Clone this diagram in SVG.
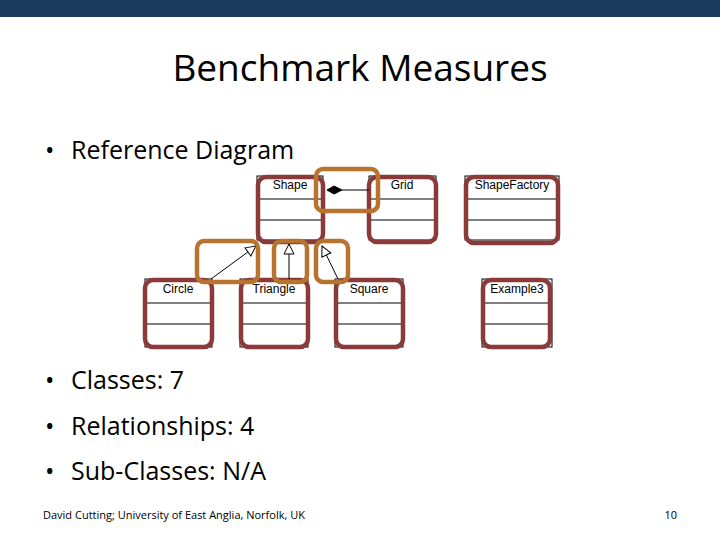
<svg xmlns="http://www.w3.org/2000/svg" width="720" height="540" viewBox="0 0 720 540">
<style>
.t{font-family:"Open Sans","Liberation Sans",sans-serif;fill:#000}
.cls{fill:#fff;stroke:#000;stroke-width:1}
.lbl{font-family:"Liberation Sans",sans-serif;font-size:12px;text-anchor:middle;fill:#000}
.red{fill:none;stroke:#8B3A3A;stroke-width:4.5}
.org{fill:none;stroke:#B8732F;stroke-width:4.5}
</style>
<defs>
<marker id="hollow" markerWidth="12" markerHeight="12" refX="11" refY="6" orient="auto" markerUnits="userSpaceOnUse"><path d="M1,1 L11,6 L1,11 Z" fill="#fff" stroke="#000"/></marker>
</defs>
<rect x="0" y="0" width="720" height="17" fill="#1B3A5E"/>
<text class="t" x="360" y="81" font-size="37" text-anchor="middle">Benchmark Measures</text>
<g class="t" font-size="25">
<text x="45" y="159">•</text><text x="71" y="159">Reference Diagram</text>
<text x="45" y="389">•</text><text x="71" y="389">Classes: 7</text>
<text x="45" y="435">•</text><text x="71" y="435">Relationships: 4</text>
<text x="45" y="480">•</text><text x="71" y="480">Sub-Classes: N/A</text>
</g>
<text class="t" x="43" y="519" font-size="11">David Cutting; University of East Anglia, Norfolk, UK</text>
<text class="t" x="677" y="519" font-size="11" text-anchor="end">10</text>
<g id="shape"><rect class="cls" x="257" y="176" width="66" height="64"/><line x1="257" y1="199" x2="323" y2="199" stroke="#000"/><line x1="257" y1="220" x2="323" y2="220" stroke="#000"/><text class="lbl" x="290" y="189">Shape</text><rect class="red" x="258" y="177" width="65" height="65" rx="8"/></g>
<g id="grid"><rect class="cls" x="369" y="176" width="67" height="64"/><line x1="369" y1="199" x2="436" y2="199" stroke="#000"/><line x1="369" y1="220" x2="436" y2="220" stroke="#000"/><text class="lbl" x="402" y="189">Grid</text><rect class="red" x="369" y="177" width="67" height="65" rx="8"/></g>
<g id="shapefactory"><rect class="cls" x="465" y="176" width="94" height="64"/><line x1="465" y1="199" x2="559" y2="199" stroke="#000"/><line x1="465" y1="220" x2="559" y2="220" stroke="#000"/><text class="lbl" x="512" y="189">ShapeFactory</text><rect class="red" x="466" y="177" width="92" height="66" rx="8"/></g>
<g id="circle"><rect class="cls" x="145" y="279" width="67" height="68"/><line x1="145" y1="303" x2="212" y2="303" stroke="#000"/><line x1="145" y1="324" x2="212" y2="324" stroke="#000"/><text class="lbl" x="178" y="293">Circle</text><rect class="red" x="145" y="280" width="67" height="67" rx="8"/></g>
<g id="triangle"><rect class="cls" x="240" y="279" width="68" height="68"/><line x1="240" y1="303" x2="308" y2="303" stroke="#000"/><line x1="240" y1="324" x2="308" y2="324" stroke="#000"/><text class="lbl" x="274" y="293">Triangle</text><rect class="red" x="241" y="280" width="67" height="67" rx="8"/></g>
<g id="square"><rect class="cls" x="335" y="279" width="68" height="68"/><line x1="335" y1="303" x2="403" y2="303" stroke="#000"/><line x1="335" y1="324" x2="403" y2="324" stroke="#000"/><text class="lbl" x="369" y="293">Square</text><rect class="red" x="336" y="280" width="67" height="67" rx="8"/></g>
<g id="example3"><rect class="cls" x="482" y="279" width="70" height="68"/><line x1="482" y1="303" x2="552" y2="303" stroke="#000"/><line x1="482" y1="324" x2="552" y2="324" stroke="#000"/><text class="lbl" x="517" y="293">Example3</text><rect class="red" x="483" y="280" width="67" height="67" rx="8"/></g>
<g id="connectors" stroke="#000" stroke-width="1">
<line x1="342" y1="190" x2="369" y2="190"/>
<path d="M327,190 L334,186 L342,190 L334,194 Z" fill="#000"/>
<line x1="211" y1="279" x2="256" y2="246" marker-end="url(#hollow)"/>
<line x1="289" y1="279" x2="289" y2="244" marker-end="url(#hollow)"/>
<line x1="338" y1="279" x2="322" y2="246" marker-end="url(#hollow)"/>
</g>
<g id="highlights">
<rect class="org" x="316" y="169" width="62" height="42" rx="7"/>
<rect class="org" x="197" y="241" width="61" height="41" rx="7"/>
<rect class="org" x="274" y="241" width="33" height="41" rx="7"/>
<rect class="org" x="316" y="241" width="32" height="41" rx="7"/>
</g>
</svg>
